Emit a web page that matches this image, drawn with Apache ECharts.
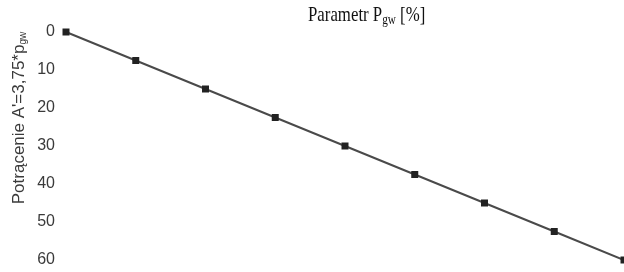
<!DOCTYPE html>
<html><head><meta charset="utf-8">
<script src="https://cdn.jsdelivr.net/npm/echarts@6/dist/echarts.min.js"></script>
<style>html,body{margin:0;padding:0;background:#fff}#c{width:624px;height:272px}</style>
</head><body><div id="c"></div>
<script>
const pgw = [0, 2, 4, 6, 8, 10, 12, 14, 16];
const potracenie = [0, 7.5, 15, 22.5, 30, 37.5, 45, 52.5, 60];
const yTicks = [0, 10, 20, 30, 40, 50, 60];

const chart = echarts.init(document.getElementById('c'), null, {renderer: 'canvas'});
chart.setOption({
  animation: false,
  backgroundColor: '#fff',
  grid: {left: 66, right: 0, top: 32, bottom: 12, containLabel: false},
  xAxis: {
    type: 'value', min: 0, max: 16, position: 'top',
    axisLine: {show: false}, axisTick: {show: false}, axisLabel: {show: false}, splitLine: {show: false}
  },
  yAxis: {
    type: 'value', min: 0, max: 60, interval: 10, inverse: true,
    axisLine: {show: false}, axisTick: {show: false}, splitLine: {show: false},
    axisLabel: {
      margin: 11, color: '#3a3a3a', fontFamily: 'Liberation Sans', fontSize: 16,
      formatter: v => yTicks.includes(v) ? String(v) : ''
    }
  },
  graphic: [{
    type: 'text', x: 308, y: 15, scaleX: 0.8,
    style: {
      text: '{a|Parametr P}{s|gw}{a| [%]}',
      align: 'left', verticalAlign: 'middle',
      rich: {
        a: {fontFamily: 'Liberation Serif', fontSize: 21, fill: '#111'},
        s: {fontFamily: 'Liberation Serif', fontSize: 14, fill: '#111', verticalAlign: 'bottom', padding: [10, 0, 0, 0]}
      }
    }
  }, {
    type: 'text', x: 19, y: 118, rotation: Math.PI / 2,
    style: {
      text: "{a|Potrącenie A'=3,75*p}{s|gw}",
      align: 'center', verticalAlign: 'middle',
      rich: {
        a: {fontFamily: 'Liberation Sans', fontSize: 17, fill: '#3a3a3a'},
        s: {fontFamily: 'Liberation Sans', fontSize: 10, fill: '#3a3a3a', padding: [8, 0, 0, 0]}
      }
    }
  }],
  series: [{
    type: 'line',
    data: pgw.map((x, i) => [x, potracenie[i]]),
    symbol: 'rect', symbolSize: 7, clip: false,
    lineStyle: {color: '#4a4a4a', width: 2},
    itemStyle: {color: '#222'}
  }]
});
</script></body></html>
